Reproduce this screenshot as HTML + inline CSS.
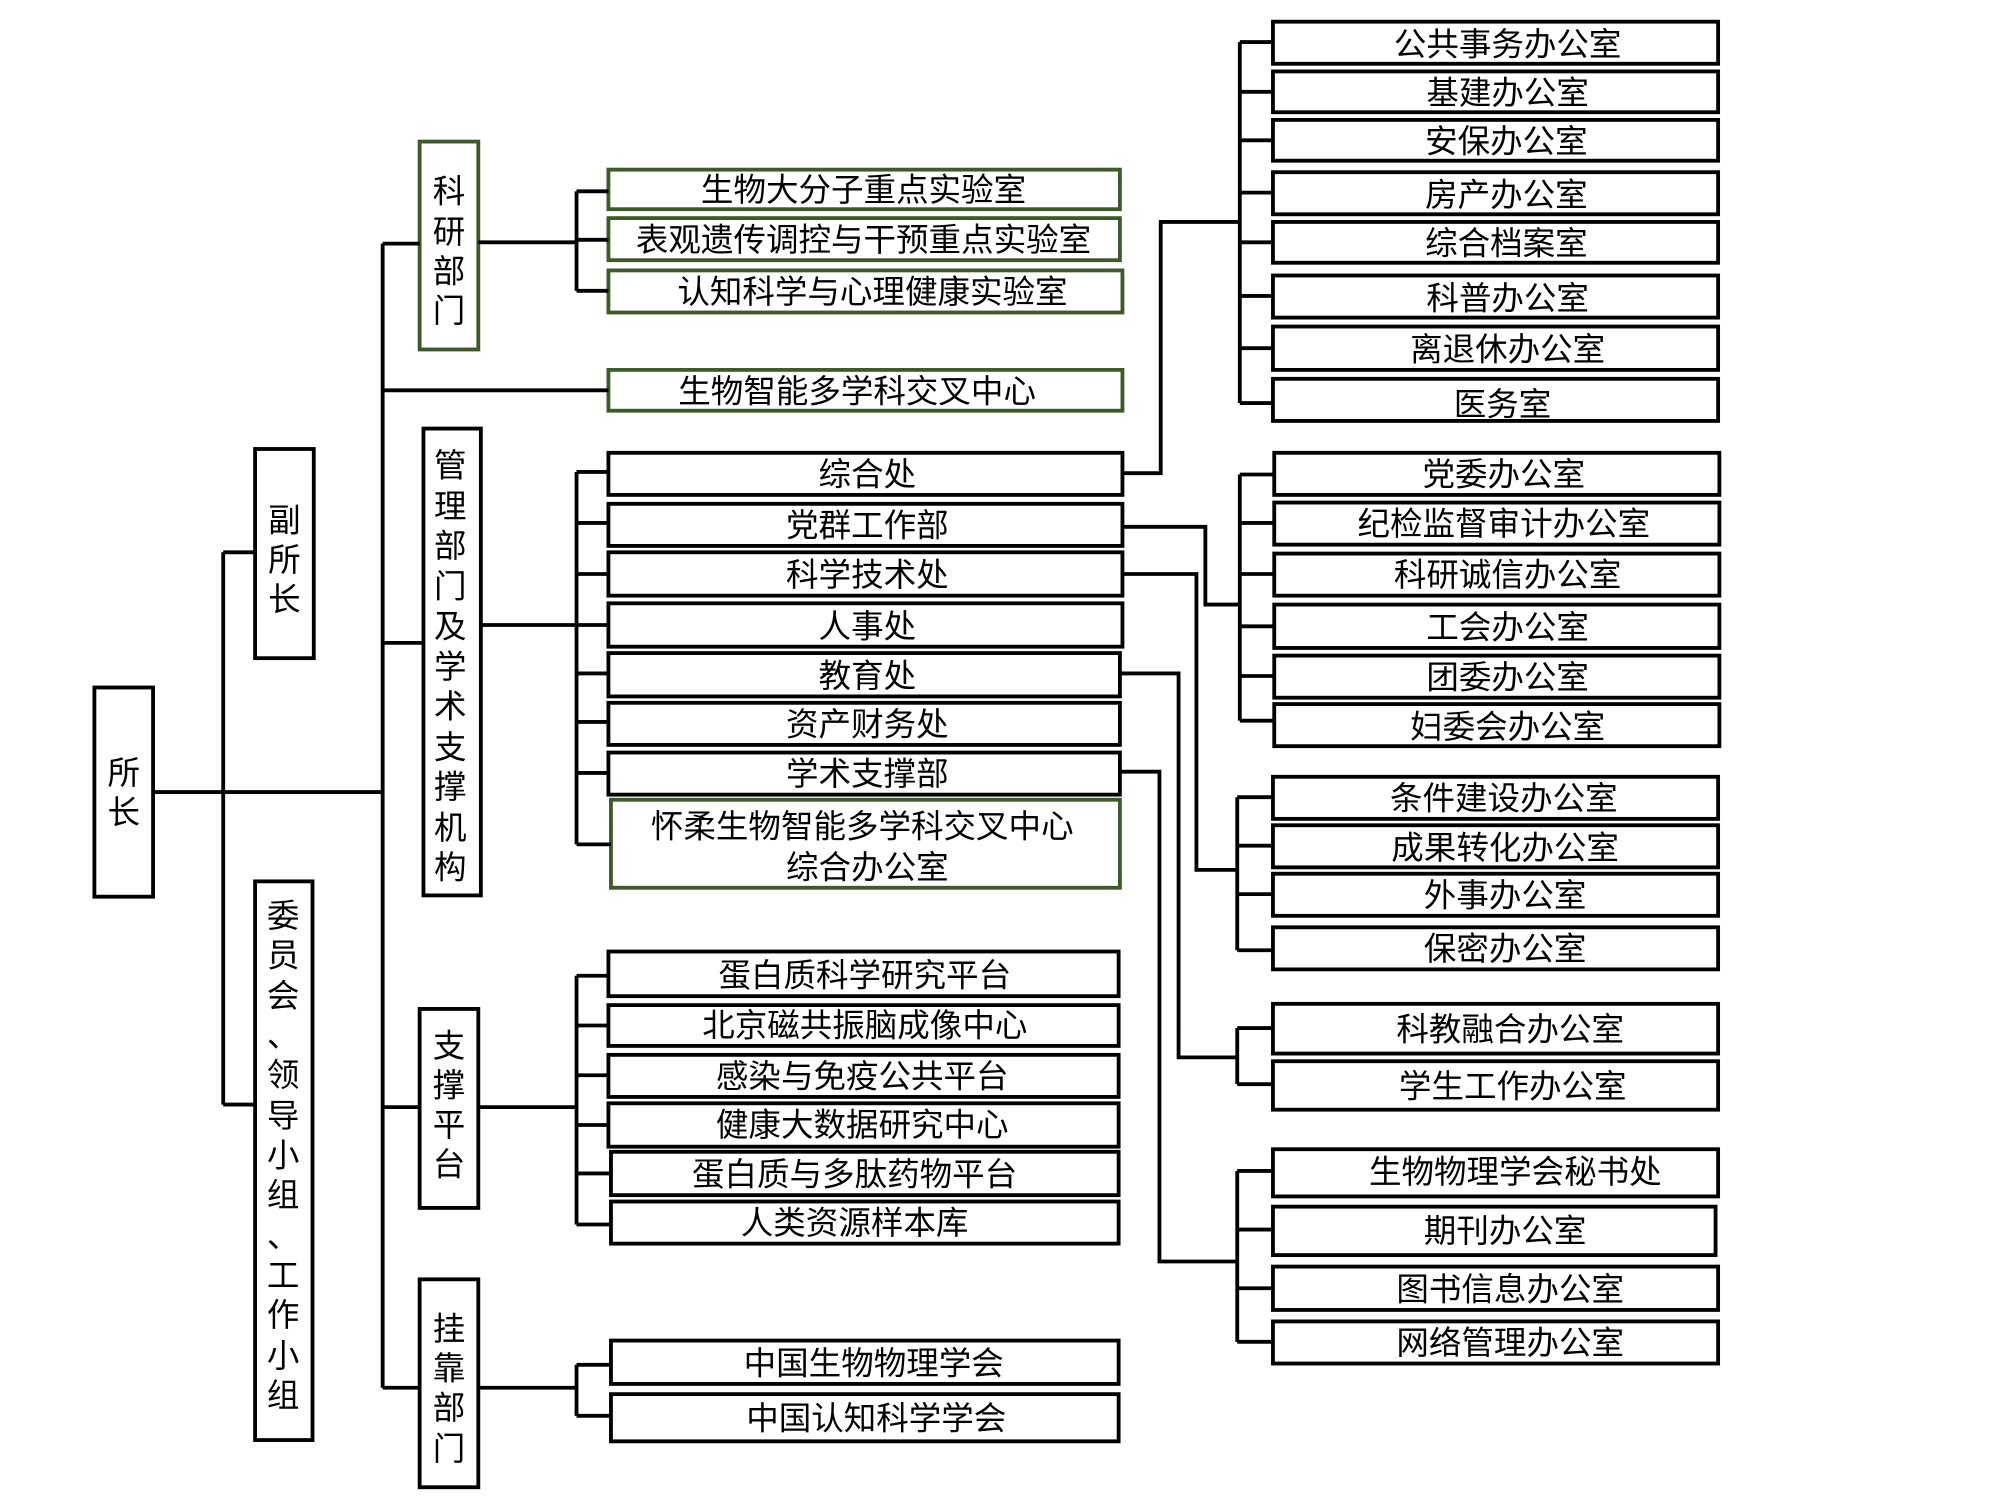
<!DOCTYPE html>
<html><head><meta charset="utf-8"><style>
html,body{margin:0;padding:0;background:#fff;}
svg{display:block;}
text{font-family:"Liberation Sans","Noto Sans CJK SC",sans-serif;font-size:25.5px;fill:#000;text-anchor:middle;dominant-baseline:central;}
</style></head><body>
<svg width="2000" height="1500" viewBox="0 0 1568 1176" preserveAspectRatio="none" xmlns="http://www.w3.org/2000/svg">
<g fill="#fff" stroke="#000" stroke-width="3">
<rect x="74" y="539" width="46" height="164"/>
<rect x="200" y="352" width="46" height="164"/>
<rect x="200" y="691" width="45" height="438"/>
<rect x="329" y="111" width="46" height="163" stroke="#3f5a2a"/>
<rect x="332" y="336" width="45" height="366"/>
<rect x="329" y="791" width="46" height="156"/>
<rect x="329" y="1003" width="46" height="163"/>
<rect x="477" y="133" width="401" height="31" stroke="#3f5a2a"/>
<rect x="477" y="171" width="401" height="33" stroke="#3f5a2a"/>
<rect x="477" y="212" width="403" height="33" stroke="#3f5a2a"/>
<rect x="477" y="290" width="403" height="32" stroke="#3f5a2a"/>
<rect x="477" y="355" width="403" height="33"/>
<rect x="477" y="395" width="403" height="33"/>
<rect x="477" y="433" width="403" height="34"/>
<rect x="477" y="473" width="403" height="34"/>
<rect x="477" y="512" width="401" height="34"/>
<rect x="477" y="551" width="401" height="33"/>
<rect x="477" y="590" width="401" height="33"/>
<rect x="479" y="627" width="399" height="69" stroke="#3f5a2a"/>
<rect x="477" y="746" width="400" height="35"/>
<rect x="477" y="788" width="400" height="32"/>
<rect x="477" y="827" width="400" height="33"/>
<rect x="477" y="865" width="400" height="34"/>
<rect x="479" y="903" width="398" height="34"/>
<rect x="479" y="942" width="398" height="33"/>
<rect x="479" y="1051" width="398" height="34"/>
<rect x="479" y="1093" width="398" height="37"/>
<rect x="998" y="17" width="349" height="33"/>
<rect x="998" y="56" width="349" height="32"/>
<rect x="998" y="94" width="349" height="32"/>
<rect x="998" y="135" width="349" height="33"/>
<rect x="998" y="174" width="349" height="32"/>
<rect x="998" y="216" width="349" height="33"/>
<rect x="998" y="256" width="349" height="34"/>
<rect x="998" y="297" width="349" height="33"/>
<rect x="999" y="355" width="349" height="33"/>
<rect x="999" y="394" width="349" height="33"/>
<rect x="999" y="434" width="349" height="33"/>
<rect x="999" y="474" width="349" height="34"/>
<rect x="999" y="514" width="349" height="33"/>
<rect x="999" y="552" width="349" height="33"/>
<rect x="998" y="609" width="349" height="33"/>
<rect x="998" y="647" width="349" height="33"/>
<rect x="998" y="685" width="349" height="33"/>
<rect x="998" y="727" width="349" height="33"/>
<rect x="998" y="787" width="349" height="39"/>
<rect x="998" y="832" width="349" height="38"/>
<rect x="998" y="901" width="349" height="37"/>
<rect x="998" y="946" width="347" height="38"/>
<rect x="998" y="993" width="349" height="34"/>
<rect x="998" y="1036" width="349" height="33"/>
</g>
<g fill="none" stroke="#000" stroke-width="3">
<path d="M120 621H300M175 433V866M175 433H200M175 866H200"/>
<path d="M300 191V1088M300 191H329M300 306H477M300 504H332M300 868H329M300 1088H329"/>
<path d="M375 190H452M452 150V228M452 150H477M452 188H477M452 228H477"/>
<path d="M377 490H452M452 370V662M452 370H477M452 410H477M452 450H477M452 490H477M452 528H477M452 566H477M452 606H477M452 662H479"/>
<path d="M375 868H452M452 765V960M452 765H477M452 804H477M452 843H477M452 882H477M452 920H479M452 960H479"/>
<path d="M375 1088H452M452 1070V1110M452 1070H479M452 1110H479"/>
<path d="M880 371H910V174H972M972 33V316M972 33H998M972 72H998M972 110H998M972 151H998M972 190H998M972 232H998M972 273H998M972 316H998"/>
<path d="M880 413H945V474H972M972 372V565M972 372H999M972 410H999M972 450H999M972 491H999M972 530H999M972 565H999"/>
<path d="M880 450H938V682H970M970 625V745M970 625H998M970 663H998M970 701H998M970 745H998"/>
<path d="M878 528H924V829H970M970 806V850M970 806H998M970 850H998"/>
<path d="M878 605H909V989H970M970 918V1052M970 918H998M970 964H998M970 1010H998M970 1052H998"/>
</g>
<g>
<text x="97" y="606">所</text><text x="97" y="637">长</text>
<text x="223" y="408">副</text><text x="223" y="439">所</text><text x="223" y="470">长</text>
<text x="222" y="718">委</text><text x="222" y="749">员</text><text x="222" y="781">会</text><text x="222" y="812">、</text><text x="222" y="843">领</text><text x="222" y="875">导</text><text x="222" y="906">小</text><text x="222" y="937">组</text><text x="222" y="969">、</text><text x="222" y="1000">工</text><text x="222" y="1031">作</text><text x="222" y="1063">小</text><text x="222" y="1094">组</text>
<text x="352" y="150">科</text><text x="352" y="182">研</text><text x="352" y="213">部</text><text x="352" y="244">门</text>
<text x="353" y="365">管</text><text x="353" y="397">理</text><text x="353" y="428">部</text><text x="353" y="460">门</text><text x="353" y="491">及</text><text x="353" y="523">学</text><text x="353" y="554">术</text><text x="353" y="586">支</text><text x="353" y="617">撑</text><text x="353" y="649">机</text><text x="353" y="680">构</text>
<text x="352" y="820">支</text><text x="352" y="851">撑</text><text x="352" y="882">平</text><text x="352" y="913">台</text>
<text x="352" y="1042">挂</text><text x="352" y="1073">靠</text><text x="352" y="1104">部</text><text x="352" y="1136">门</text>
<text x="677" y="149">生物大分子重点实验室</text>
<text x="677" y="188">表观遗传调控与干预重点实验室</text>
<text x="684" y="229">认知科学与心理健康实验室</text>
<text x="672" y="307">生物智能多学科交叉中心</text>
<text x="680" y="372">综合处</text>
<text x="680" y="412">党群工作部</text>
<text x="680" y="451">科学技术处</text>
<text x="680" y="491">人事处</text>
<text x="680" y="530">教育处</text>
<text x="680" y="568">资产财务处</text>
<text x="680" y="607">学术支撑部</text>
<text x="676" y="648">怀柔生物智能多学科交叉中心</text>
<text x="680" y="680">综合办公室</text>
<text x="678" y="765">蛋白质科学研究平台</text>
<text x="678" y="804">北京磁共振脑成像中心</text>
<text x="676" y="844">感染与免疫公共平台</text>
<text x="676" y="882">健康大数据研究中心</text>
<text x="670" y="921">蛋白质与多肽药物平台</text>
<text x="670" y="959">人类资源样本库</text>
<text x="685" y="1069">中国生物物理学会</text>
<text x="687" y="1112">中国认知科学学会</text>
<text x="1182" y="35">公共事务办公室</text>
<text x="1182" y="73">基建办公室</text>
<text x="1181" y="111">安保办公室</text>
<text x="1181" y="153">房产办公室</text>
<text x="1181" y="191">综合档案室</text>
<text x="1182" y="234">科普办公室</text>
<text x="1182" y="274">离退休办公室</text>
<text x="1178" y="317">医务室</text>
<text x="1179" y="372">党委办公室</text>
<text x="1179" y="411">纪检监督审计办公室</text>
<text x="1182" y="451">科研诚信办公室</text>
<text x="1182" y="492">工会办公室</text>
<text x="1182" y="531">团委办公室</text>
<text x="1182" y="570">妇委会办公室</text>
<text x="1179" y="626">条件建设办公室</text>
<text x="1180" y="665">成果转化办公室</text>
<text x="1180" y="702">外事办公室</text>
<text x="1180" y="744">保密办公室</text>
<text x="1184" y="807">科教融合办公室</text>
<text x="1186" y="852">学生工作办公室</text>
<text x="1188" y="919">生物物理学会秘书处</text>
<text x="1180" y="965">期刊办公室</text>
<text x="1184" y="1011">图书信息办公室</text>
<text x="1184" y="1053">网络管理办公室</text>
</g>
</svg>
</body></html>
